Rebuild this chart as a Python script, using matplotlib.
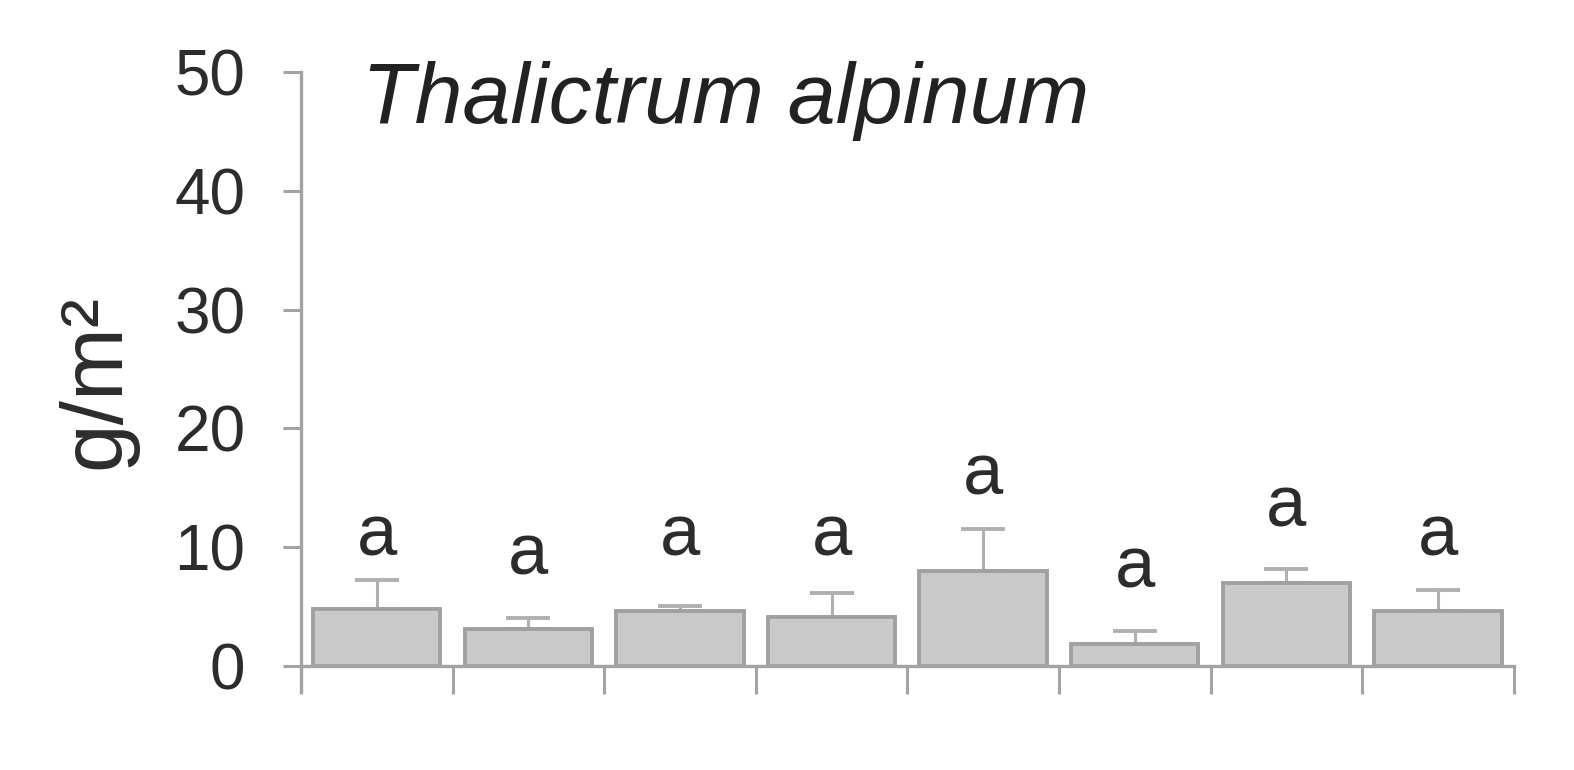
import matplotlib
matplotlib.use("Agg")
import matplotlib.pyplot as plt
import numpy as np

plt.rcParams['font.family'] = ['Liberation Sans', 'DejaVu Sans']

# Data
groups = ["1", "2", "3", "4", "5", "6", "7", "8"]
means = [4.75, 3.1, 4.65, 4.15, 7.95, 1.85, 6.95, 4.65]
upper_err = [2.45, 0.9, 0.35, 1.95, 3.55, 1.05, 1.2, 1.7]
letters = ["a", "a", "a", "a", "a", "a", "a", "a"]
letter_y = [9.3, 7.7, 9.3, 9.3, 14.4, 6.6, 11.7, 9.3]
yticks = [0, 10, 20, 30, 40, 50]
title = "Thalictrum alpinum"
ylabel = "g/m²"

axis_col = "#a3a3a3"
bar_face = "#c9c9c9"
bar_edge = "#a0a0a0"
text_col = "#2c2c2c"

fig = plt.figure(figsize=(15.74, 7.70), dpi=100)
ax = fig.add_axes([0.1912, 0.103, 0.7705, 0.8031])

x = np.arange(len(groups)) + 0.5
ax.bar(x, means, width=0.84, color=bar_face, edgecolor=bar_edge, linewidth=2.8, zorder=2)
ax.errorbar(x, means, yerr=[np.zeros(len(means)), upper_err], fmt='none',
            ecolor="#b0b0b0", elinewidth=2.2, capsize=16, capthick=2.8, zorder=1)

for xi, yi, lt in zip(x, letter_y, letters):
    ax.text(xi, yi, lt, ha='center', va='baseline', fontsize=52, color=text_col)

ax.set_xlim(0, len(groups))
ax.set_ylim(-2.1, 50)
ax.set_yticks(yticks)
ax.set_yticklabels([str(t) for t in yticks])
ax.set_xticks(np.arange(len(groups) + 1))
ax.set_xticklabels([])

for s in ['top', 'right']:
    ax.spines[s].set_visible(False)
ax.spines['bottom'].set_position(('data', 0))
ax.spines['left'].set_color(axis_col)
ax.spines['bottom'].set_color(axis_col)
ax.spines['left'].set_linewidth(2.4)
ax.spines['bottom'].set_linewidth(2.4)

ax.tick_params(axis='y', direction='out', length=13, width=2.2, color=axis_col,
               labelsize=46, labelcolor=text_col, pad=27)
ax.tick_params(axis='x', direction='out', length=20, width=2.2, color=axis_col)

ax.set_ylabel(ylabel, fontsize=63, color=text_col)
ax.yaxis.set_label_coords(-0.135, 0.5)

ax.text(0.40, 45.7, title, fontsize=62, style='italic', color="#222222",
        ha='left', va='baseline')

fig.savefig("out.png", dpi=100)
